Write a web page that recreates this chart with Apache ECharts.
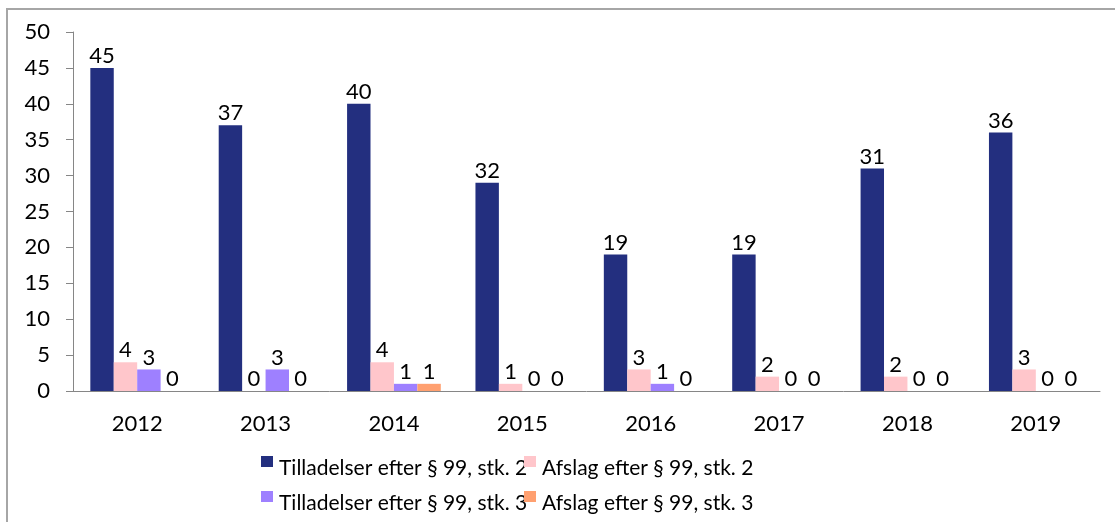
<!DOCTYPE html>
<html>
<head>
<meta charset="utf-8">
<script src="https://cdn.jsdelivr.net/npm/echarts@6/dist/echarts.min.js"></script>
<style>
	body { margin: 0; background: #fff; }
	#main { width: 1115px; height: 522px; }
</style>
</head>
<body>
<div id="main"></div>
<script>
// kategorier (år)
var years = ['2012', '2013', '2014', '2015', '2016', '2017', '2018', '2019'];
// serier
var tilladelserStk2 = [45, 37, 40, 29, 19, 19, 31, 36];
// datamærkater som de står i figuren (2015 viser 32 selvom søjlen er lavere)
var tilladelserStk2Labels = ['45', '37', '40', '32', '19', '19', '31', '36'];
var afslagStk2 = [4, 0, 4, 1, 3, 2, 2, 3];
var tilladelserStk3 = [3, 3, 1, 0, 1, 0, 0, 0];
var afslagStk3 = [0, 0, 1, 0, 0, 0, 0, 0];
var yTicks = [0, 5, 10, 15, 20, 25, 30, 35, 40, 45, 50];

var seriesNames = ['Tilladelser efter § 99, stk. 2', 'Afslag efter § 99, stk. 2',
	'Tilladelser efter § 99, stk. 3', 'Afslag efter § 99, stk. 3'];
var colors = ['#232F7F', '#FFC6CB', '#9E80FF', '#FFA070'];

var font = 'Lato';
var axisColor = '#868686';
// firkant øverst i ikonet, så den sidder højt ved teksten
var legendIcon = 'path://M0,0 L12,0 L12,11 L0,11 Z M0,24 L0.01,24';

function makeLegend(i, left, top) {
	return {
		left: left,
		top: top,
		padding: 0,
		itemWidth: 12,
		itemHeight: 24,
		itemGap: 0,
		icon: legendIcon,
		textStyle: { fontFamily: font, fontSize: 21, color: '#000', padding: [0, 0, 0, 1] },
		data: [seriesNames[i]]
	};
}

function makeSeries(i, values, labels) {
	return {
		name: seriesNames[i],
		type: 'bar',
		barGap: 0,
		barCategoryGap: '27%',
		itemStyle: { color: colors[i] },
		label: {
			show: true,
			position: 'top',
			distance: 1,
			fontFamily: font,
			fontSize: 22,
			color: '#000',
			formatter: function (p) {
				return labels ? labels[p.dataIndex] : p.value;
			}
		},
		data: values
	};
}

var myChart = echarts.init(document.getElementById('main'));
myChart.setOption({
	animation: false,
	grid: { left: 73, right: 15, top: 32, bottom: 131 },
	legend: [
		makeLegend(0, 261, 456),
		makeLegend(1, 524, 456),
		makeLegend(2, 261, 491),
		makeLegend(3, 524, 491)
	],
	graphic: [{
		type: 'rect',
		shape: { x: 7, y: 9, width: 1200, height: 600 },
		style: { fill: 'none', stroke: '#A6A6A6', lineWidth: 2 },
		silent: true
	}],
	xAxis: {
		type: 'category',
		data: years,
		axisLine: { lineStyle: { color: axisColor, width: 1 } },
		axisTick: { length: 6, lineStyle: { color: axisColor } },
		axisLabel: { margin: 22, fontFamily: font, fontSize: 22, color: '#000' }
	},
	yAxis: {
		type: 'value',
		min: yTicks[0],
		max: yTicks[yTicks.length - 1],
		interval: 5,
		splitLine: { show: false },
		axisLine: { show: true, lineStyle: { color: axisColor, width: 1 } },
		axisTick: { show: true, length: 7, lineStyle: { color: axisColor } },
		axisLabel: { margin: 23, fontFamily: font, fontSize: 22, color: '#000' }
	},
	series: [
		makeSeries(0, tilladelserStk2, tilladelserStk2Labels),
		makeSeries(1, afslagStk2),
		makeSeries(2, tilladelserStk3),
		makeSeries(3, afslagStk3)
	]
});
</script>
</body>
</html>
